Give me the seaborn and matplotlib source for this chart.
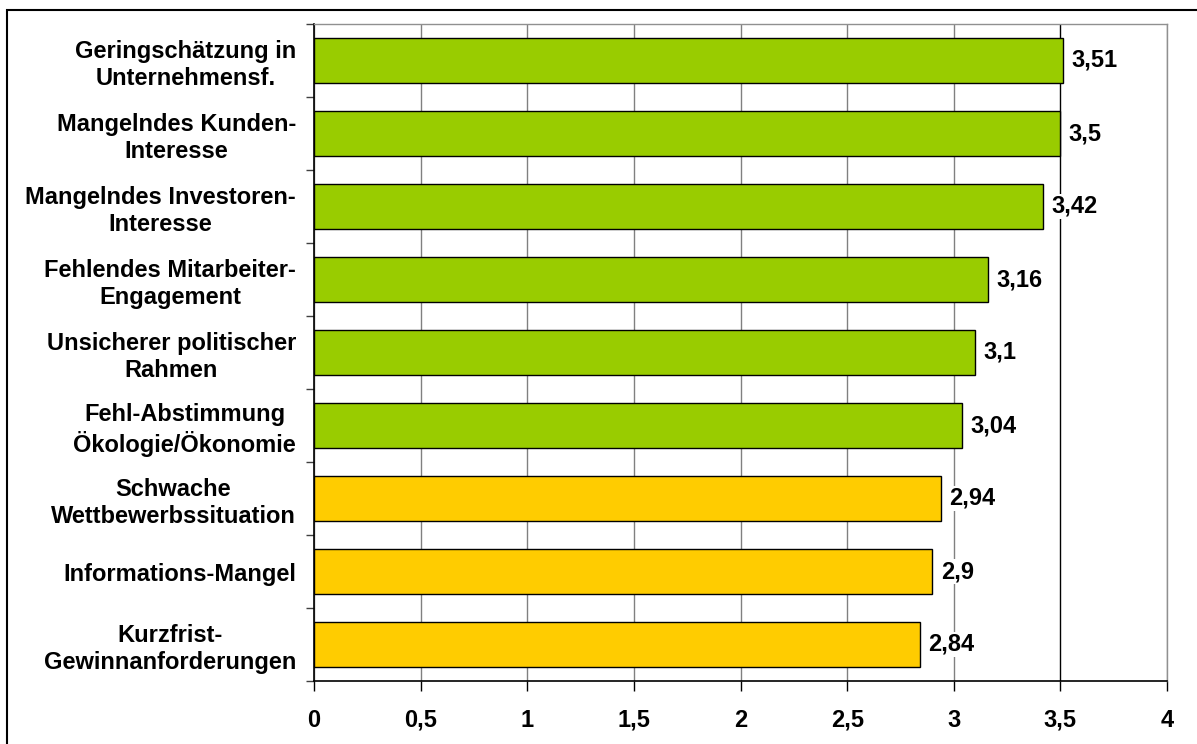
import matplotlib
matplotlib.use("Agg")
import matplotlib.pyplot as plt
import matplotlib.patches as mpatches
import seaborn as sns
import pandas as pd
import numpy as np

categories = [
    "Geringschätzung in\nUnternehmensf.",
    "Mangelndes Kunden-\nInteresse",
    "Mangelndes Investoren-\nInteresse",
    "Fehlendes Mitarbeiter-\nEngagement",
    "Unsicherer politischer\nRahmen",
    "Fehl-Abstimmung\nÖkologie/Ökonomie",
    "Schwache\nWettbewerbssituation",
    "Informations-Mangel",
    "Kurzfrist-\nGewinnanforderungen",
]
values = [3.51, 3.50, 3.42, 3.16, 3.10, 3.04, 2.94, 2.90, 2.84]
groups = ["hoch"] * 6 + ["niedrig"] * 3
group_colors = {"hoch": "#99CC00", "niedrig": "#FFCC00"}
x_ticks = [0, 0.5, 1, 1.5, 2, 2.5, 3, 3.5, 4]
x_tick_labels = ["0", "0,5", "1", "1,5", "2", "2,5", "3", "3,5", "4"]

df = pd.DataFrame({"Hemmnis": categories, "Wert": values, "Gruppe": groups})

sns.set_theme(style="white")
plt.rcParams["font.family"] = ["Liberation Sans", "DejaVu Sans"]
plt.rcParams["text.color"] = "black"
plt.rcParams["xtick.color"] = "black"
plt.rcParams["ytick.color"] = "black"

FS = 17

fig = plt.figure(figsize=(11.97, 7.44), dpi=100)
ax = fig.add_axes([314 / 1197, 1 - 681 / 744, (1167 - 314) / 1197, (681 - 24) / 744])

sns.barplot(
    data=df, x="Wert", y="Hemmnis", hue="Gruppe", palette=group_colors,
    orient="h", width=0.62, edgecolor="black", linewidth=1.0,
    saturation=1, legend=False, ax=ax, zorder=3,
)

ax.set_xlim(0, 4)
ax.set_ylim(len(categories) - 0.5, -0.5)
ax.set_xticks(x_ticks)
ax.set_xticklabels(x_tick_labels, fontsize=FS, fontweight="bold", color="black")
ax.set_xlabel("")
ax.set_ylabel("")

# category labels centred on bars, separator ticks between categories
ax.set_yticks(range(len(categories)))
ax.set_yticklabels(categories, fontsize=FS, fontweight="bold", color="black",
                   multialignment="center", linespacing=1.2)
ax.tick_params(axis="y", which="major", length=0, pad=13)
ax.set_yticks(np.arange(-0.5, len(categories), 1.0), minor=True)
ax.tick_params(axis="y", which="minor", length=6, width=1, color="#404040",
               direction="out", left=True)
ax.tick_params(axis="x", which="major", length=7, width=1, color="black",
               direction="out", bottom=True, pad=13)

# vertical grid
ax.grid(axis="x", color="#808080", linewidth=1.0, zorder=0)
ax.set_axisbelow(True)
for tick_val, gl in zip(x_ticks, ax.get_xgridlines()):
    if tick_val == 3.5:
        gl.set_color("black")

for side in ["top", "right"]:
    ax.spines[side].set_color("#909090")
    ax.spines[side].set_linewidth(1.0)
for side in ["left", "bottom"]:
    ax.spines[side].set_color("black")
    ax.spines[side].set_linewidth(1.2)

# value labels
for i, v in enumerate(values):
    ax.text(v + 0.04, i, f"{v:g}".replace(".", ","), va="center", ha="left",
            fontsize=FS, fontweight="bold", color="black", zorder=5,
            bbox=dict(facecolor="white", edgecolor="none", pad=0.5))

# outer frame of the figure
frame = mpatches.Rectangle((7 / 1197, -0.05), 1.2, 1 - 10 / 744 + 0.05,
                           transform=fig.transFigure, fill=False,
                           edgecolor="black", linewidth=1.5, clip_on=False)
fig.patches.append(frame)

fig.savefig("out.png", dpi=100)
